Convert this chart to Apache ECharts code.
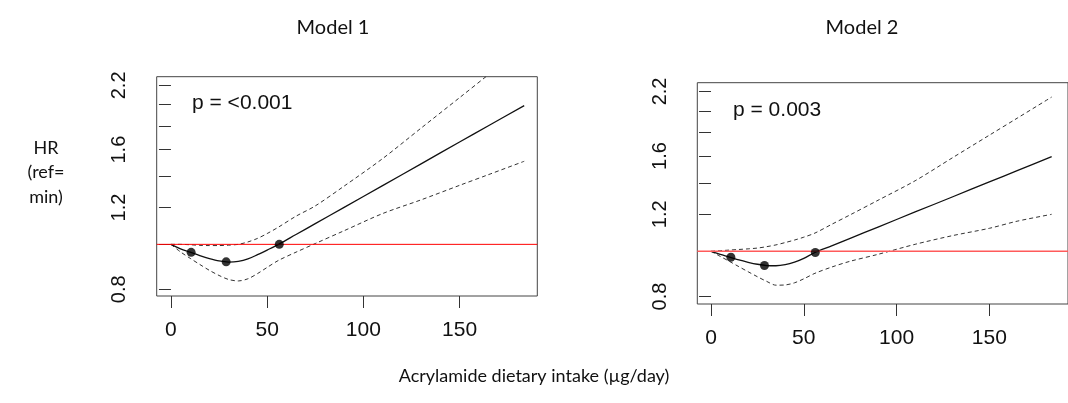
<!DOCTYPE html>
<html>
<head>
<meta charset="utf-8">
<script src="https://cdn.jsdelivr.net/npm/echarts@6/dist/echarts.min.js"></script>
<style>html,body{margin:0;padding:0;background:#fff;}#c{width:1068px;height:403px;}</style>
</head>
<body>
<div id="c"></div>
<script>
// ---- data ----
const xGrid = [0,5,10,15,20,25,30,35,40,45,50,56,65,75,90,110,130,150,165,183.6];
// Model 1
const hr1 = [1.0,0.978,0.962,0.946,0.932,0.921,0.916,0.919,0.930,0.950,0.972,1.0,1.050,1.108,1.201,1.338,1.491,1.661,1.801,1.99];
const up1 = [1.0,1.0,0.998,0.995,0.994,0.994,0.996,1.0,1.012,1.03,1.055,1.09,1.15,1.21,1.335,1.53,1.78,2.07,2.32,2.67];
const lo1 = [1.0,0.963,0.933,0.905,0.879,0.857,0.840,0.834,0.843,0.865,0.892,0.924,0.962,1.004,1.07,1.165,1.247,1.34,1.413,1.51];
const ptX1 = [10.5,28.7,56.3];
const ptY1 = [0.961,0.917,1.0];
// Model 2
const hr2 = [1.0,0.985,0.972,0.958,0.947,0.938,0.932,0.931,0.936,0.948,0.966,0.994,1.027,1.066,1.127,1.214,1.307,1.408,1.488,1.595];
const up2 = [1.0,1.003,1.006,1.009,1.012,1.016,1.023,1.032,1.044,1.057,1.072,1.094,1.142,1.197,1.286,1.416,1.585,1.773,1.928,2.14];
const lo2 = [1.0,0.975,0.951,0.927,0.904,0.882,0.862,0.846,0.847,0.856,0.873,0.897,0.925,0.952,0.985,1.035,1.08,1.12,1.16,1.20];
const ptX2 = [10.7,28.8,56.2];
const ptY2 = [0.971,0.932,0.994];
// axes
const xRange1 = [-7.4, 190.4];
const xRange2 = [-7.4, 192.4];
const yRange1 = [0.774, 2.297];
const yRange2 = [0.771, 2.297];
const xTicks = [0,50,100,150];
const yTicks = [0.8,1.0,1.2,1.4,1.6,1.8,2.0,2.2];
const yLabels = [0.8,1.2,1.6,2.2];
const refValue = 1.0;
const titles = ['Model 1','Model 2'];
const pTexts = ['p = <0.001','p = 0.003'];
const yTitle = ['HR','(ref=','min)'];
const xTitle = 'Acrylamide dietary intake (\u00b5g/day)';

const pairs = (xs, ys) => xs.map((x,i)=>[x, ys[i]]);
const tickFont = 'Liberation Sans, Arial, sans-serif';

function xAxis(i, r){
  return {type:'value', gridIndex:i, min:r[0], max:r[1],
    axisLine:{show:false}, splitLine:{show:false},
    axisTick:{show:true, length:12, customValues:xTicks, lineStyle:{color:'#333', width:1}},
    axisLabel:{customValues:xTicks, margin:24, fontSize:21, fontFamily:tickFont, color:'#111'}};
}
function yAxis(i, r){
  return {type:'log', logBase:10, gridIndex:i, min:r[0], max:r[1],
    axisLine:{show:false}, splitLine:{show:false},
    axisTick:{show:true, length:12, customValues:yTicks, lineStyle:{color:'#333', width:1}},
    axisLabel:{customValues:yLabels, rotate:90, margin:27, fontSize:20, fontFamily:tickFont, color:'#111',
      formatter:v=>Number(v).toFixed(1)}};
}
function panel(i, hr, up, lo, px, py, xr, refColor, refWidth){
  const dash = {color:'#333', width:1, type:[4,3]};
  return [
    {type:'line', xAxisIndex:i, yAxisIndex:i, data:pairs(xGrid, up), symbol:'none', smooth:0.3, lineStyle:dash, silent:true, z:2},
    {type:'line', xAxisIndex:i, yAxisIndex:i, data:pairs(xGrid, lo), symbol:'none', smooth:0.3, lineStyle:dash, silent:true, z:2},
    {type:'line', xAxisIndex:i, yAxisIndex:i, data:pairs(xGrid, hr), symbol:'none', smooth:0.3, lineStyle:{color:'#111', width:1.3}, silent:true, z:2},
    {type:'line', xAxisIndex:i, yAxisIndex:i, data:pairs(xr, [refValue, refValue]), symbol:'none', lineStyle:{color:refColor, width:refWidth}, silent:true, z:3},
    {type:'scatter', xAxisIndex:i, yAxisIndex:i, data:pairs(px, py), symbol:'circle', symbolSize:9, itemStyle:{color:'#000'}, z:5, silent:true}
  ];
}
const titleFont = 'Lato, sans-serif';
const chart = echarts.init(document.getElementById('c'));
chart.setOption({
  animation:false,
  backgroundColor:'#fff',
  grid:[
    {left:156.7, top:76.7, width:380.6, height:219.3, show:true, borderColor:'#444', borderWidth:1, backgroundColor:'transparent'},
    {left:697.3, top:82.7, width:386.2, height:221.3, show:true, borderColor:'#444', borderWidth:1, backgroundColor:'transparent'}
  ],
  xAxis:[xAxis(0,xRange1), xAxis(1,xRange2)],
  yAxis:[yAxis(0,yRange1), yAxis(1,yRange2)],
  series:[].concat(panel(0,hr1,up1,lo1,ptX1,ptY1,xRange1,'#ff0000',1), panel(1,hr2,up2,lo2,ptX2,ptY2,xRange2,'#ff5a5a',1.6)),
  graphic:[
    {type:'text', x:333, y:28, style:{text:titles[0], align:'center', verticalAlign:'middle', font:'20px '+titleFont, fill:'#111'}},
    {type:'text', x:862, y:28, style:{text:titles[1], align:'center', verticalAlign:'middle', font:'20px '+titleFont, fill:'#111'}},
    {type:'text', x:46, y:148, style:{text:yTitle[0], align:'center', verticalAlign:'middle', font:'18px '+titleFont, fill:'#111'}},
    {type:'text', x:46, y:172, style:{text:yTitle[1], align:'center', verticalAlign:'middle', font:'18px '+titleFont, fill:'#111'}},
    {type:'text', x:46, y:197, style:{text:yTitle[2], align:'center', verticalAlign:'middle', font:'18px '+titleFont, fill:'#111'}},
    {type:'text', x:534, y:376, style:{text:xTitle, align:'center', verticalAlign:'middle', font:'18px '+titleFont, fill:'#111'}},
    {type:'text', x:192, y:103, style:{text:pTexts[0], align:'left', verticalAlign:'middle', font:'21px '+tickFont, fill:'#111'}},
    {type:'text', x:733, y:110, style:{text:pTexts[1], align:'left', verticalAlign:'middle', font:'21px '+tickFont, fill:'#111'}}
  ]
});
</script>
</body>
</html>
